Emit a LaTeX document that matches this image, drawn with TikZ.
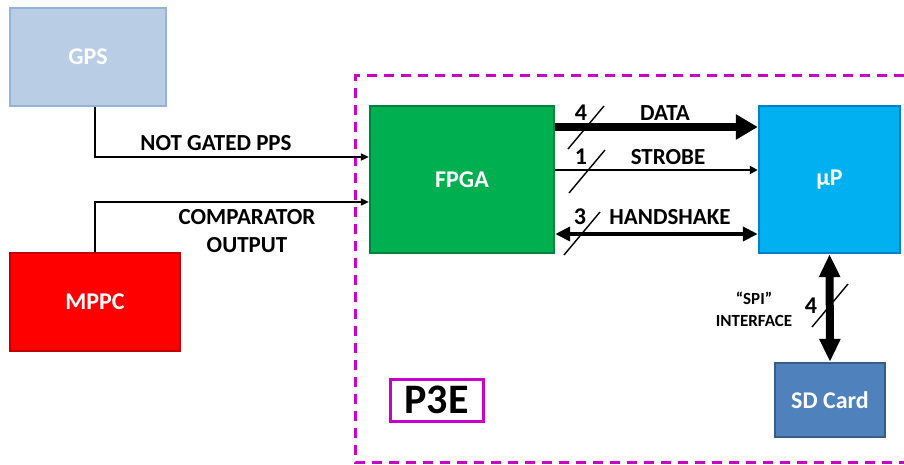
\documentclass[tikz,border=0pt]{standalone}
\usepackage{fontspec}
\setmainfont{Carlito}
\usetikzlibrary{arrows.meta,calc}
\definecolor{gpsfill}{HTML}{B9CDE5}
\definecolor{gpsline}{HTML}{95B3D7}
\definecolor{mppcline}{HTML}{C00000}
\definecolor{fpgafill}{HTML}{00B050}
\definecolor{fpgaline}{HTML}{00843C}
\definecolor{upfill}{HTML}{00B0F0}
\definecolor{upline}{HTML}{0080C8}
\definecolor{sdfill}{HTML}{4F81BD}
\definecolor{sdline}{HTML}{385D8A}
\definecolor{board}{HTML}{C800C8}
\tikzstyle{block} = [draw, line width=1.2pt, text=white, inner sep=0pt,
    font=\bfseries\fontsize{12}{14}\selectfont]
\tikzstyle{lbl} = [inner sep=0pt, align=center,
    font=\bfseries\fontsize{11.5}{14}\selectfont]
\tikzstyle{buslbl} = [inner sep=0pt, font=\bfseries\fontsize{12}{14}\selectfont]
\tikzstyle{thinsig} = [line width=1pt, -{Triangle[length=4pt,width=3.5pt]}]
\newcommand{\busslash}[1]{\draw[line width=0.7pt] ($(#1)+(-18,21)$) -- ($(#1)+(18,-22)$);}

\begin{document}
\begin{tikzpicture}[x=0.5pt,y=-0.5pt]
\useasboundingbox (0,0) rectangle (904,465);
    %board outline
    \draw[board, line width=1.5pt, dash pattern=on 5pt off 3.5pt]
        (904,76) -- (355,76) -- (355,462) -- (904,462);
    %blocks
    \node[block, fill=gpsfill, draw=gpsline, minimum width=78pt, minimum height=49pt]
        (gps) at (88,57) {GPS};
    \node[block, fill=red, draw=mppcline, minimum width=85pt, minimum height=49pt]
        (mppc) at (95,302) {MPPC};
    \node[block, fill=fpgafill, draw=fpgaline, minimum width=92pt, minimum height=73.5pt]
        (fpga) at (462,179.5) {FPGA};
    \node[block, fill=upfill, draw=upline, minimum width=70.5pt, minimum height=73.5pt]
        (up) at (829.5,179.5) {µP};
    \node[block, fill=sdfill, draw=sdline, minimum width=55pt, minimum height=37pt]
        (sd) at (830,400) {SD Card};
    \node[draw=board, line width=1.5pt, minimum width=46.5pt, minimum height=21pt,
        inner sep=0pt, font=\bfseries\fontsize{21}{24}\selectfont]
        (p3e) at (436.5,400) {P3E};
    %inputs to the FPGA
    \draw[thinsig] ($(gps.south)+(7,0)$) |- ($(fpga.west)+(0,-22.5)$);
    \draw[thinsig] (mppc.north) |- ($(fpga.west)+(0,22.5)$);
    \node[lbl] (pps) at (216,143) {NOT GATED PPS};
    \node[lbl] (comp) at (247,231) {COMPARATOR\\OUTPUT};
    %FPGA to uP
    \coordinate (d1) at ($(fpga.east)+(0,-52.5)$);
    \coordinate (d2) at ($(up.west)+(0,-52.5)$);
    \coordinate (s1) at ($(fpga.east)+(0,-9.5)$);
    \coordinate (s2) at ($(up.west)+(0,-9.5)$);
    \coordinate (h1) at ($(fpga.east)+(0,54.5)$);
    \coordinate (h2) at ($(up.west)+(0,54.5)$);
    \draw[line width=4pt, -{Triangle[length=11pt,width=12pt]}] (d1) -- (d2);
    \draw[line width=1pt, -{Triangle[length=4pt,width=4pt]}] (s1) -- (s2);
    \draw[line width=2pt, {Triangle[length=7.5pt,width=7pt]}-{Triangle[length=7.5pt,width=7pt]}]
        (h1) -- (h2);
    \busslash{586,128}
    \busslash{587,172}
    \busslash{582,234}
    \node[buslbl] (n4) at (581,113) {4};
    \node[buslbl] (n1) at (581,157) {1};
    \node[buslbl] (n3) at (580,217) {3};
    \node[lbl] (data) at (665,113) {DATA};
    \node[lbl] (strobe) at (668,157) {STROBE};
    \node[lbl] (hand) at (670,217) {HANDSHAKE};
    %uP to SD card
    \draw[line width=4pt, {Triangle[length=11.5pt,width=10pt]}-{Triangle[length=11.5pt,width=10pt]}]
        (up.south) -- (sd.north);
    \busslash{830,306}
    \node[buslbl] (n4s) at (811,306) {4};
    \node[inner sep=0pt, align=center, font=\bfseries\fontsize{8.5}{11}\selectfont]
        (spi) at (754,309.5) {“SPI”\\INTERFACE};
\end{tikzpicture}
\end{document}
